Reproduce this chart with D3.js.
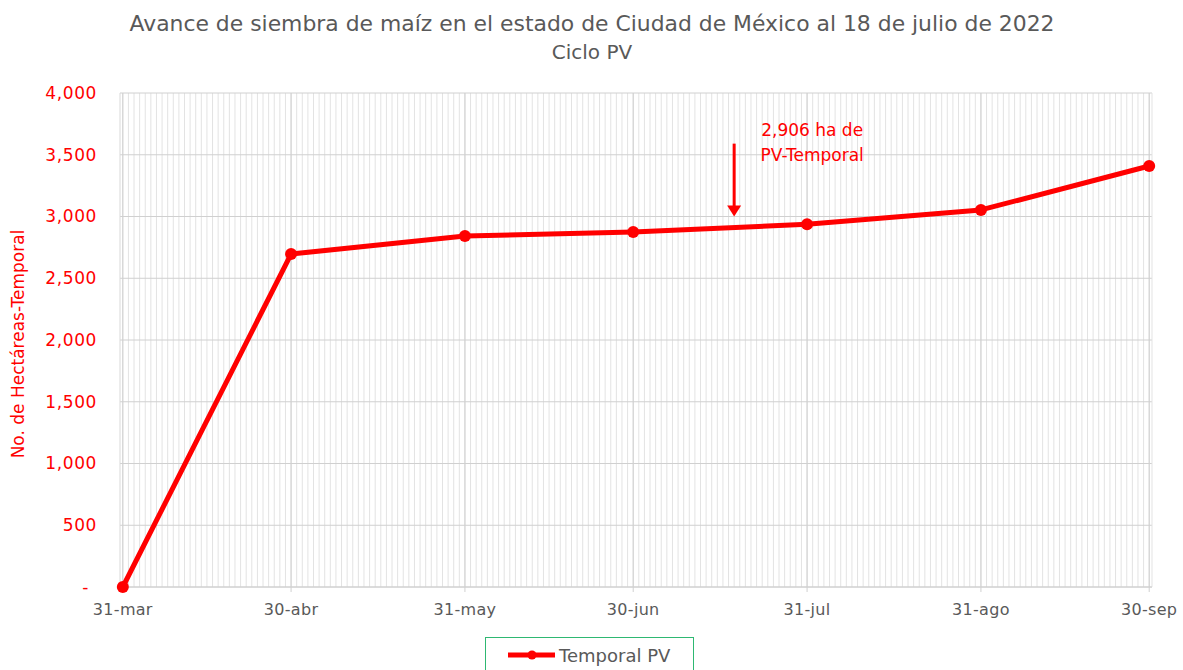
<!DOCTYPE html>
<html><head><meta charset="utf-8">
<script src="https://cdn.jsdelivr.net/npm/d3@7"></script>
<style>
body{margin:0;background:#fff;}
text{font-family:"DejaVu Sans","Noto Sans",sans-serif;}
</style></head>
<body><svg id="c" width="1183" height="670"></svg>
<script>
const dates = ["2022-03-31","2022-04-30","2022-05-31","2022-06-30","2022-07-31","2022-08-31","2022-09-30"];
const tickLabels = ["31-mar","30-abr","31-may","30-jun","31-jul","31-ago","30-sep"];
const values = [0, 2696, 2842, 2874, 2937, 3053, 3409];
const yTicks = [0,500,1000,1500,2000,2500,3000,3500,4000];
const annotationDate = "2022-07-18";
const annotationLines = ["2,906 ha de","PV-Temporal"];
const seriesName = "Temporal PV";

const svg = d3.select("#c");
const parse = d3.timeParse("%Y-%m-%d");
const dd = dates.map(parse);
const pL = 120, pR = 1152, pT = 93, pB = 587;
const pad = 12*3600*1000;
const x = d3.scaleTime().domain([new Date(+dd[0]-pad), new Date(+dd[dd.length-1]+pad)]).range([pL,pR]);
const y = d3.scaleLinear().domain([0,4000]).range([pB,pT]);
const red = "#ff0000";

// daily vertical gridlines
const days = d3.timeDay.range(dd[0], d3.timeDay.offset(dd[dd.length-1],1));
svg.append("g").selectAll("line").data(days).join("line")
  .attr("x1",d=>x(d)).attr("x2",d=>x(d)).attr("y1",pT).attr("y2",pB)
  .attr("stroke","#e3e3e3").attr("stroke-width",1);
svg.append("g").selectAll("line").data(dd).join("line")
  .attr("x1",d=>x(d)).attr("x2",d=>x(d)).attr("y1",pT).attr("y2",pB+5)
  .attr("stroke","#d0d0d0").attr("stroke-width",1);
svg.append("g").selectAll("line").data(yTicks).join("line")
  .attr("x1",pL).attr("x2",pR).attr("y1",d=>y(d)).attr("y2",d=>y(d))
  .attr("stroke","#d0d0d0").attr("stroke-width",1);
svg.append("line").attr("x1",pL).attr("x2",pL).attr("y1",pT).attr("y2",pB).attr("stroke","#d9d9d9");
svg.append("line").attr("x1",pR).attr("x2",pR).attr("y1",pT).attr("y2",pB).attr("stroke","#e3e3e3");
svg.append("line").attr("x1",pL).attr("x2",pR).attr("y1",pB).attr("y2",pB).attr("stroke","#d0d0d0");

// y tick labels
svg.append("g").selectAll("text").data(yTicks).join("text")
  .attr("x",97).attr("y",d=>y(d)).attr("dy","0.35em").attr("text-anchor","end")
  .attr("fill",red).attr("font-size",17).attr("letter-spacing",0.6)
  .text(d=> d===0 ? "-" : d3.format(",")(d))
  .attr("dx",d=> d===0 ? -8 : 0);
// x tick labels
svg.append("g").selectAll("text").data(dd).join("text")
  .attr("x",d=>x(d)).attr("y",pB+28).attr("text-anchor","middle")
  .attr("fill","#595959").attr("font-size",16).attr("letter-spacing",0.3)
  .text((d,i)=>tickLabels[i]);

// y axis title
svg.append("text").attr("transform",`translate(24,${(pT+pB)/2+4}) rotate(-90)`)
  .attr("text-anchor","middle").attr("fill",red).attr("font-size",17)
  .text("No. de Hectáreas-Temporal");

// title
svg.append("text").attr("x",592).attr("y",31).attr("text-anchor","middle").attr("fill","#595959").attr("font-size",21)
  .attr("textLength",925).attr("lengthAdjust","spacingAndGlyphs")
  .text("Avance de siembra de maíz en el estado de  Ciudad de México al 18 de julio de 2022");
svg.append("text").attr("x",592).attr("y",59).attr("text-anchor","middle").attr("fill","#595959").attr("font-size",20)
  .text("Ciclo PV");

// line
const line = d3.line().x((d,i)=>x(dd[i])).y(d=>y(d));
svg.append("path").datum(values).attr("d",line).attr("fill","none")
  .attr("stroke",red).attr("stroke-width",5).attr("stroke-linejoin","round");
svg.append("g").selectAll("circle").data(values).join("circle")
  .attr("cx",(d,i)=>x(dd[i])).attr("cy",d=>y(d)).attr("r",6).attr("fill",red);

// annotation arrow
const ax = x(parse(annotationDate));
svg.append("line").attr("x1",ax).attr("x2",ax).attr("y1",y(3590)).attr("y2",y(3085))
  .attr("stroke",red).attr("stroke-width",3);
svg.append("path").attr("d",`M${ax-7},${y(3090)} L${ax+7},${y(3090)} L${ax},${y(3000)} Z`).attr("fill",red);
svg.append("g").selectAll("text").data(annotationLines).join("text")
  .attr("x",ax+78).attr("y",(d,i)=>136+i*25).attr("text-anchor","middle")
  .attr("fill",red).attr("font-size",17).text(d=>d);

// legend
svg.append("rect").attr("x",485.5).attr("y",637.5).attr("width",208).attr("height",40)
  .attr("fill","#fff").attr("stroke","#2eb872").attr("stroke-width",1);
svg.append("line").attr("x1",508).attr("x2",555).attr("y1",655).attr("y2",655).attr("stroke",red).attr("stroke-width",5);
svg.append("circle").attr("cx",532).attr("cy",655).attr("r",4.5).attr("fill",red);
svg.append("text").attr("x",559).attr("y",662).attr("fill","#595959").attr("font-size",18).text(seriesName);
</script></body></html>
